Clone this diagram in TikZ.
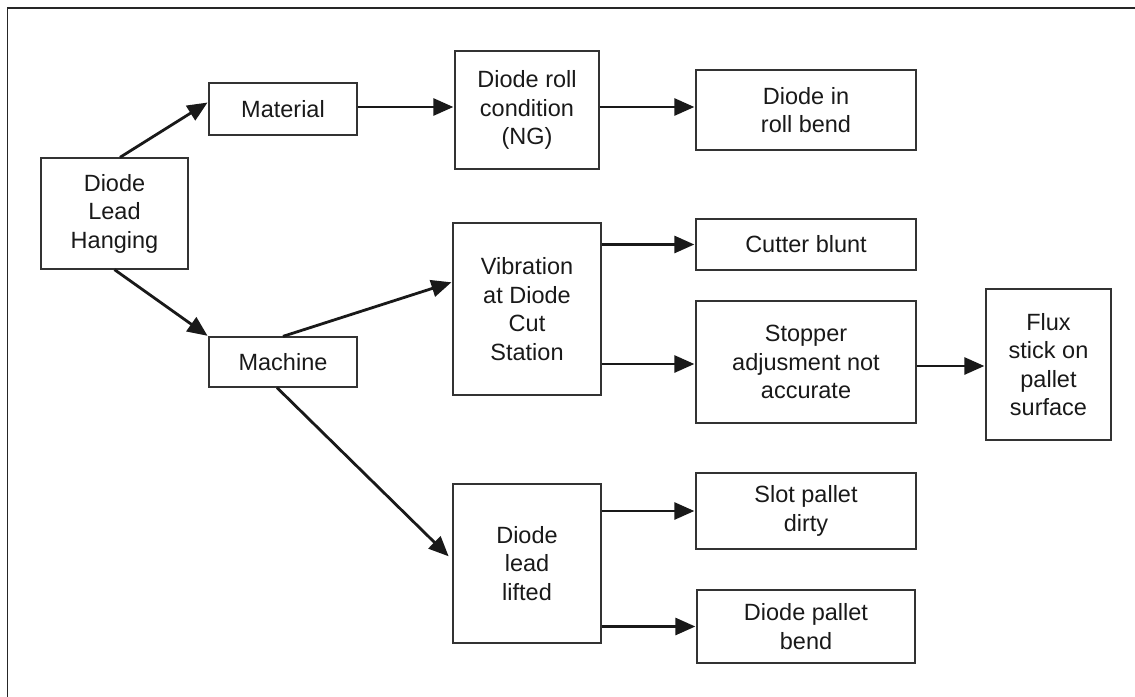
\documentclass[tikz,border=0pt]{standalone}
\usepackage{fontspec}
\setmainfont{Liberation Sans}
\usetikzlibrary{arrows.meta,calc}
\begin{document}
\begin{tikzpicture}[x=1pt,y=-1pt,
  box/.style={draw=black!80, line width=1.3pt, align=center, inner sep=0pt,
    font=\fontsize{23.5}{28.5}\selectfont, text=black!90},
  arr/.style={line width=2.8pt, draw=black!90, -{Triangle[length=20pt,width=17pt]}, shorten >=1pt}]
\useasboundingbox (0,0) rectangle (1135,696);
\draw[line width=1.5pt, black!85] (7.5,720) -- (7.5,8) -- (1160,8);
\node[box, minimum width=147pt, minimum height=111pt] (dlh) at (114.5,213.5) {Diode\\Lead\\Hanging};
\node[box, minimum width=148pt, minimum height=52pt] (mat) at (283,109) {Material};
\node[box, minimum width=148pt, minimum height=50pt] (mach) at (283,362) {Machine};
\node[box, minimum width=144pt, minimum height=118pt] (roll) at (527,110) {Diode roll\\condition\\(NG)};
\node[box, minimum width=148pt, minimum height=172pt] (vib) at (527,309) {Vibration\\at Diode\\Cut\\Station};
\node[box, minimum width=148pt, minimum height=159pt] (lifted) at (527,563.5) {Diode\\lead\\lifted};
\node[box, minimum width=220pt, minimum height=80pt] (bend) at (806,110) {Diode in\\roll bend};
\node[box, minimum width=220pt, minimum height=51pt] (cutter) at (806,244.5) {Cutter blunt};
\node[box, minimum width=220pt, minimum height=122pt] (stopper) at (806,362) {Stopper\\adjusment not\\accurate};
\node[box, minimum width=220pt, minimum height=76pt] (slot) at (806,511) {Slot pallet\\dirty};
\node[box, minimum width=218pt, minimum height=73pt] (pbend) at (806,626.5) {Diode pallet\\bend};
\node[box, minimum width=125pt, minimum height=151pt] (flux) at (1048.5,364.5) {Flux\\stick on\\pallet\\surface};
\draw[arr] ([xshift=5.5pt]dlh.north) -- ([yshift=7pt]mat.west);
\draw[arr] (dlh.south) -- (mach.north west);
\draw[arr] (mach.north) -- ([yshift=27pt]vib.west);
\draw[arr] ([xshift=-6pt]mach.south) -- ([yshift=6.5pt,xshift=-3pt]lifted.west);
\draw[arr] ([yshift=2pt]mat.east) -- ([yshift=2pt]mat.east -| roll.west);
\draw[arr] ([yshift=3pt]roll.east) -- ([yshift=3pt]roll.east -| bend.west);
\draw[arr] (vib.east |- cutter.west) -- (cutter.west);
\draw[arr] ([yshift=-2pt]vib.east |- stopper.west) -- ([yshift=-2pt]stopper.west);
\draw[arr] ([yshift=-4pt]stopper.east) -- ([yshift=-4pt]stopper.east -| flux.west);
\draw[arr] (lifted.east |- slot.west) -- (slot.west);
\draw[arr] (lifted.east |- pbend.west) -- (pbend.west);
\end{tikzpicture}
\end{document}
